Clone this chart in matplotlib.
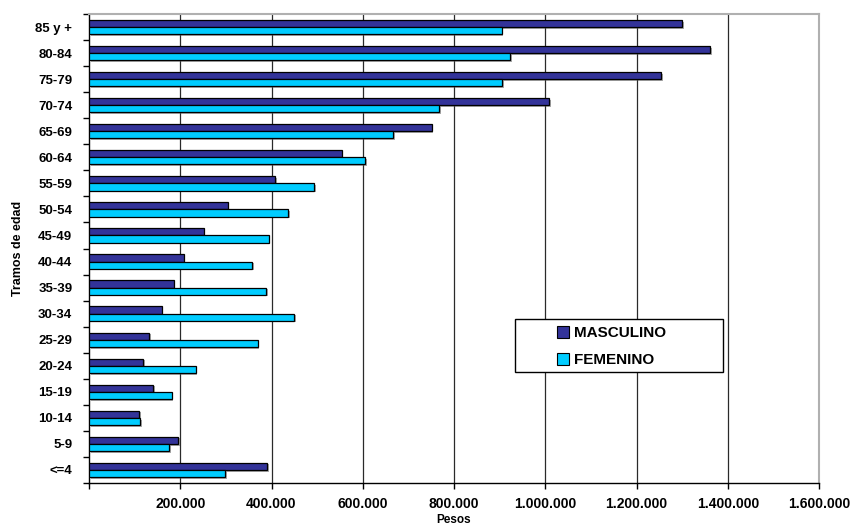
import matplotlib
matplotlib.use("Agg")
import matplotlib.pyplot as plt
import matplotlib.patheffects as pe
from matplotlib.patches import Rectangle, Patch
from matplotlib.ticker import FuncFormatter, FixedLocator
import numpy as np

plt.rcParams['font.family'] = ['Liberation Sans', 'DejaVu Sans']

categories = ["<=4", "5-9", "10-14", "15-19", "20-24", "25-29", "30-34", "35-39",
              "40-44", "45-49", "50-54", "55-59", "60-64", "65-69", "70-74",
              "75-79", "80-84", "85 y +"]
masculino = [391000, 196000, 110000, 140000, 119000, 131500, 159000, 185600,
             207500, 251000, 304000, 408000, 554000, 751000, 1008000,
             1254500, 1361000, 1300000]
femenino = [299000, 175000, 112000, 181000, 234000, 370000, 449000, 388000,
            357000, 394000, 436000, 494000, 605000, 667000, 768000,
            906000, 923500, 904500]
x_ticks = [0, 200000, 400000, 600000, 800000, 1000000, 1200000, 1400000, 1600000]

fig = plt.figure(figsize=(8.51, 5.27), dpi=100)
ax = fig.add_axes([89/851, 44/527, 730/851, 469/527])

y = np.arange(len(categories))
h = 0.276
shadow = [pe.SimplePatchShadow(offset=(1.2, -1.2), shadow_rgbFace='#555555', alpha=0.5), pe.Normal()]
bm = ax.barh(y + h/2, masculino, height=h, color='#333399', edgecolor='black', linewidth=0.9, zorder=3)
bf = ax.barh(y - h/2, femenino, height=h, color='#00CCFF', edgecolor='black', linewidth=0.9, zorder=3)
for b in list(bm) + list(bf):
    b.set_path_effects(shadow)

ax.set_xlim(0, 1600000)
ax.set_ylim(-0.5, len(categories) - 0.5)

ax.xaxis.set_major_locator(FixedLocator(x_ticks))
ax.xaxis.set_major_formatter(FuncFormatter(lambda v, p: '' if v == 0 else f"{int(v):,}".replace(',', '.')))
for v in x_ticks[1:-1]:
    ax.axvline(v, color='#2a2a2a', linewidth=0.9, zorder=1)

ax.set_yticks(y)
ax.set_yticklabels(categories)
ax.set_yticks(np.arange(-0.5, len(categories), 1.0), minor=True)
ax.tick_params(axis='y', which='major', length=0, pad=12)
ax.tick_params(axis='y', which='minor', length=4, width=1, direction='out', color='black')
ax.tick_params(axis='x', which='major', length=4, width=1, direction='out', pad=6)

for lab in ax.get_yticklabels():
    lab.set_fontweight('bold')
    lab.set_fontsize(9.5)
for lab in ax.get_xticklabels():
    lab.set_fontweight('bold')
    lab.set_fontsize(10)

for s in ['top', 'right']:
    ax.spines[s].set_color('#b0b0b0')
    ax.spines[s].set_linewidth(1.5)
for s in ['left', 'bottom']:
    ax.spines[s].set_color('black')
    ax.spines[s].set_linewidth(1.0)

ax.set_xlabel('Pesos', fontsize=8.5, fontweight='bold')
ax.xaxis.set_label_coords(0.5, -0.066)
ax.set_ylabel('Tramos de edad', fontsize=9, fontweight='bold')
ax.yaxis.set_label_coords(-0.089, 0.5)

# legend box
ax.add_patch(Rectangle((426/730, 111/469), 208/730, 53/469, transform=ax.transAxes,
                       facecolor='white', edgecolor='black', linewidth=1.0, zorder=5))
handles = [Patch(facecolor='#333399', edgecolor='black', linewidth=0.8),
           Patch(facecolor='#00CCFF', edgecolor='black', linewidth=0.8)]
leg = ax.legend(handles, ['MASCULINO', 'FEMENINO'], loc='center left',
                bbox_to_anchor=(468/730, 136.5/469), frameon=False,
                prop={'weight': 'bold', 'size': 11}, handlelength=0.8, handleheight=0.8,
                handletextpad=0.3, labelspacing=0.85, borderaxespad=0, borderpad=0)
leg.set_zorder(6)

fig.savefig('out.png', dpi=100)
